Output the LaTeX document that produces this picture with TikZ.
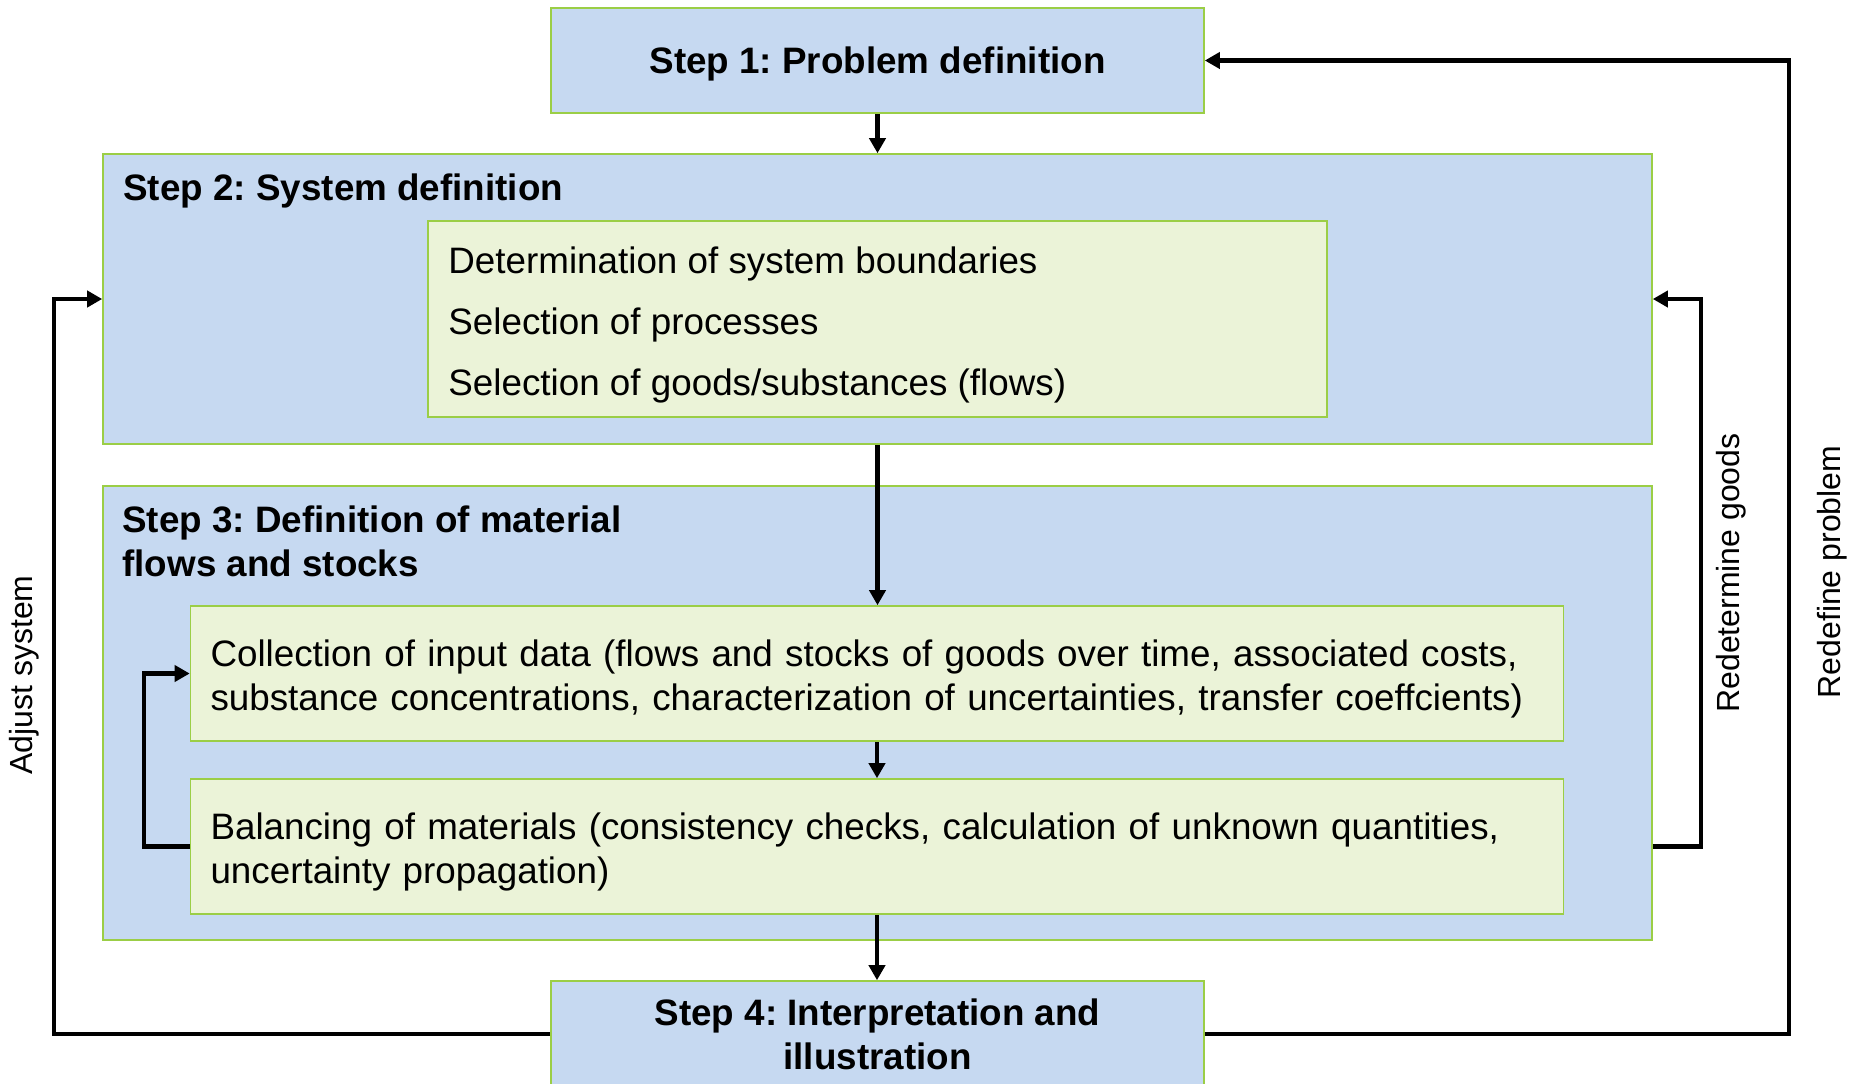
\documentclass[tikz,border=0pt]{standalone}
\usepackage{fontspec}
\setmainfont{Liberation Sans}
\usepackage{tikz}
\usetikzlibrary{arrows.meta}
\usepackage{xcolor}
\definecolor{stepblue}{RGB}{198,217,241}
\definecolor{stepgreen}{RGB}{155,206,70}
\definecolor{taskfill}{RGB}{235,243,216}
\frenchspacing

\begin{document}
\begin{tikzpicture}[x=0.5pt, y=-0.5pt,
        stepbox/.style={draw=stepgreen, line width=0.8pt, fill=stepblue, inner sep=0pt},
        taskbox/.style={draw=stepgreen, line width=0.8pt, fill=taskfill, inner sep=0pt},
        big/.style={font=\fontsize{18.4}{22}\selectfont},
        side/.style={font=\fontsize{16}{19}\selectfont, rotate=90},
        flow/.style={line width=2.4pt, -{Triangle[length=7.5pt, width=8pt]}}]
        % Page
        \clip (0, 0) rectangle (1853, 1083);
        % Step boxes
        \node (s1) at (877.5, 60.5) [stepbox, minimum width=326.5pt, minimum height=52.5pt, big, text depth=0pt] {\textbf{Step 1: Problem definition}};
        \node (s2) at (877.5, 299) [stepbox, minimum width=774.5pt, minimum height=145pt] {};
        \node (s3) at (877.5, 713) [stepbox, minimum width=774.5pt, minimum height=227pt] {};
        \node (s4) at (877.5, 1034) [stepbox, minimum width=326.5pt, minimum height=53pt, big, align=center] {\textbf{Step 4: Interpretation and}\\\textbf{illustration}};
        % Titles
        \node (s2t) at (123, 191) [anchor=west, big, inner sep=0pt] {\textbf{Step 2: System definition}};
        \node (s3t) at (122, 541) [anchor=west, big, align=left, inner sep=0pt] {\textbf{Step 3: Definition of material}\\\textbf{flows and stocks}};
        % Step 2 tasks
        \node (sys) at (877.5, 319) [taskbox, minimum width=449.5pt, minimum height=98pt] {};
        \node (sysa) at (448, 264) [anchor=west, big, inner sep=0pt] {Determination of system boundaries};
        \node (sysb) at (448, 325) [anchor=west, big, inner sep=0pt] {Selection of processes};
        \node (sysc) at (448, 385.5) [anchor=west, big, inner sep=0pt] {Selection of goods/substances (flows)};
        % Step 3 tasks
        \node (coll) at (877, 673.5) [taskbox, minimum width=686.5pt, minimum height=67.5pt, big, text width=666.5pt, inner xsep=10pt, align=left, text depth=20pt] {Collection of input data (flows and stocks of goods over time, associated costs,\\substance concentrations, characterization of uncertainties, transfer coeffcients)};
        \node (bal) at (877, 846.5) [taskbox, minimum width=686.5pt, minimum height=67.5pt, big, text width=666.5pt, inner xsep=10pt, align=left, text depth=20pt] {Balancing of materials (consistency checks, calculation of unknown quantities,\\uncertainty propagation)};
        % Main flow
        \draw [flow] (s1.south) -- (s2.north);
        \draw [flow] (s2.south) -- (s2.south |- coll.north);
        \draw [flow] (coll.south) -- (bal.north);
        \draw [flow] (bal.south) -- (bal.south |- s4.north);
        % Feedback loops
        \coordinate (adj) at (54, 0);
        \coordinate (iter) at (144, 0);
        \coordinate (redet) at (1701, 0);
        \coordinate (redef) at (1789, 0);
        \draw [flow] (s4.west) -- (s4.west -| adj) -- (s2.west -| adj) -- (s2.west);
        \draw [flow] (bal.west) -- (bal.west -| iter) -- (coll.west -| iter) -- (coll.west);
        \draw [flow] (bal -| s3.east) -- (bal -| redet) -- (s2.east -| redet) -- (s2.east);
        \draw [flow] (s4.east) -- (s4.east -| redef) -- (s1.east -| redef) -- (s1.east);
        % Loop labels
        \node (adjl) at (24, 675) [side] {Adjust system};
        \node (redetl) at (1731, 573) [side] {Redetermine goods};
        \node (redefl) at (1832, 572) [side] {Redefine problem};
    \end{tikzpicture}
\end{document}
